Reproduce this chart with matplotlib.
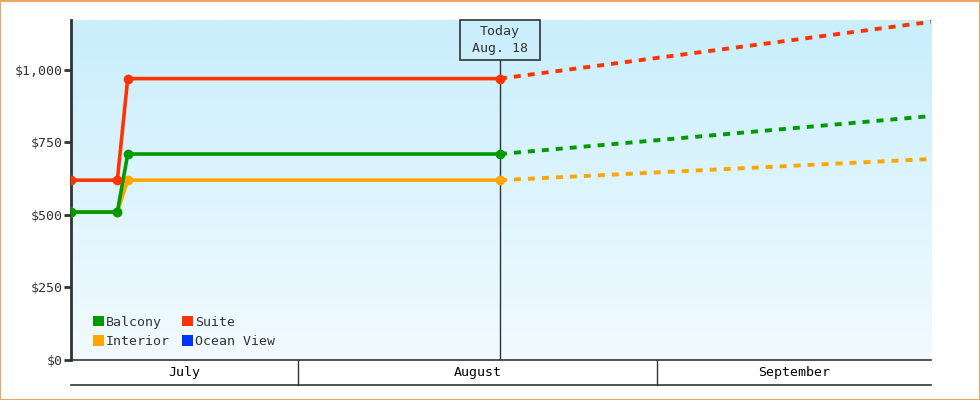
import numpy as np
import matplotlib
matplotlib.use("Agg")
from matplotlib import pyplot as plt
from matplotlib.patches import Patch, Rectangle

plt.rcParams['font.family'] = ['DejaVu Sans Mono']

# x values are days counted from Aug. 1 (July 1 = -31)
price_days = [-19.6, -15.6, -14.7, 17.44]
balcony = [510, 510, 710, 710]
interior = [510, 510, 620, 620]
suite = [620, 620, 970, 970]

proj_days = [17.44, 54.7]
balcony_proj = [710, 841]
interior_proj = [620, 693]
suite_proj = [970, 1166]

months = ["July", "August", "September"]
month_edges = [-31, 0, 31, 61]
x_range = (-19.6, 54.66)

yticks = [0, 250, 500, 750, 1000]
ytick_labels = ["$0", "$250", "$500", "$750", "$1,000"]

today_day = 17.44
today_label = "Today\nAug. 18"

colors = {"Balcony": "#009900", "Interior": "#ffa500",
          "Suite": "#ff3300", "Ocean View": "#0033ff"}
dark = "#333333"

fig = plt.figure(figsize=(9.8, 4), dpi=100)
fig.patches.append(Rectangle((0.0005, 0.001), 0.999, 0.997, transform=fig.transFigure,
                             fill=False, edgecolor="#e8a862", linewidth=1.5))
ax = fig.add_axes([71 / 980, 40 / 400, 860 / 980, 340 / 400])

# background gradient
grad = np.linspace(0, 1, 256).reshape(-1, 1)
cmap = matplotlib.colors.LinearSegmentedColormap.from_list("bg", ["#f2fbff", "#c9eefc"])
ax.imshow(grad, aspect="auto", cmap=cmap, origin="lower",
          extent=[x_range[0], x_range[1], 0, 1172], zorder=0)

for vals, proj, name in [(interior, interior_proj, "Interior"),
                         (balcony, balcony_proj, "Balcony"),
                         (suite, suite_proj, "Suite")]:
    c = colors[name]
    ax.plot(price_days, vals, color=c, lw=2.6, marker="o", ms=6, zorder=3)
    ax.plot(proj_days, proj, color=c, lw=2.8, dashes=(1.8, 1.8), zorder=3)

ax.set_xlim(*x_range)
ax.set_ylim(0, 1172)

# today marker with its label box
box_w = 6.9  # days
box_bottom = 1034
ax.plot([today_day, today_day], [0, box_bottom], color=dark, lw=1, zorder=2)
ax.add_patch(Rectangle((today_day - box_w / 2, box_bottom), box_w, 1172 - box_bottom,
                       fill=False, edgecolor=dark, lw=1.2, zorder=4, clip_on=False))
ax.text(today_day, (box_bottom + 1172) / 2, today_label, ha="center", va="center",
        fontsize=9.5, color=dark, linespacing=1.35)

# axes styling
for s in ["top", "right", "bottom"]:
    ax.spines[s].set_visible(False)
ax.spines["left"].set_color(dark)
ax.spines["left"].set_linewidth(2)
ax.set_yticks(yticks)
ax.set_yticklabels(ytick_labels)
ax.tick_params(axis="y", length=5, width=2, color=dark, labelsize=9.5,
               labelcolor=dark, pad=1)
ax.set_xticks([])

# month band axis
xt = ax.get_xaxis_transform()
band = -25 / 340
ax.plot(x_range, [0, 0], color=dark, lw=1.2, transform=xt, clip_on=False)
ax.plot(x_range, [band, band], color=dark, lw=1.2, transform=xt, clip_on=False)
for i, m in enumerate(months):
    lo = max(month_edges[i], x_range[0])
    hi = min(month_edges[i + 1], x_range[1])
    if i > 0:
        ax.plot([lo, lo], [0, band], color=dark, lw=1, transform=xt, clip_on=False)
    ax.text((lo + hi) / 2, band / 2, m, transform=xt, ha="center", va="center",
            fontsize=9.5, color="black")

handles = [Patch(facecolor=colors[n], label=n) for n in
           ["Balcony", "Interior", "Suite", "Ocean View"]]
leg = ax.legend(handles=handles, ncol=2, loc="lower left", frameon=False,
                bbox_to_anchor=(0.012, 0.0), handlelength=0.85, handleheight=0.85,
                handletextpad=0.1, columnspacing=0.95, labelspacing=0.5,
                fontsize=9.5)
for t in leg.get_texts():
    t.set_color(dark)

fig.savefig("out.png", dpi=100)
